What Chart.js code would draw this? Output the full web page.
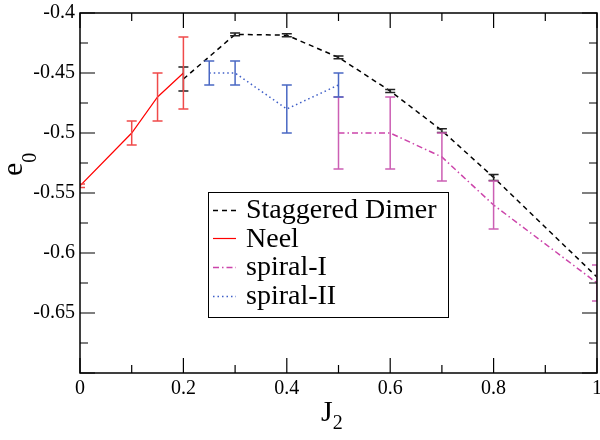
<!DOCTYPE html>
<html>
<head>
<meta charset="utf-8">
<script src="https://cdn.jsdelivr.net/npm/chart.js@4.4.0/dist/chart.umd.min.js"></script>
<style>
    html, body { margin: 0; padding: 0; background: #ffffff; }
    #wrap { width: 600px; height: 440px; position: relative; }
    #fontWarm { position: absolute; left: 0; top: 0; font-family: "Liberation Serif"; font-size: 20px; color: transparent; z-index: -1; white-space: nowrap; }
</style>
</head>
<body>
<div id="wrap">
    <div id="fontWarm">Staggered Dimer Neel spiral-I spiral-II J2 e0 -0.45 0.2 1</div>
    <canvas id="energyChart" width="600" height="440" style="position: relative; background: #fff;"></canvas>
</div>
<script>
// values
const dimerJ = [0.2, 0.3, 0.4, 0.5, 0.6, 0.7, 0.8, 1.0];
const dimerE = [-0.455, -0.4178, -0.4185, -0.437, -0.465, -0.498, -0.537, -0.62];
const dimerErr = [0.01, 0.0012, 0.0012, 0.0012, 0.0012, 0.0015, 0.0025, 0];

const neelJ = [0, 0.1, 0.15, 0.2];
const neelE = [-0.544, -0.5, -0.47, -0.45];
const neelErr = [0.0015, 0.01, 0.02, 0.03];

const spiral1J = [0.5, 0.6, 0.7, 0.8, 1.0];
const spiral1E = [-0.5, -0.5, -0.52, -0.56, -0.625];
const spiral1Err = [0.03, 0.03, 0.02, 0.02, 0.015];

const spiral2J = [0.25, 0.3, 0.4, 0.5];
const spiral2E = [-0.45, -0.45, -0.48, -0.46];
const spiral2Err = [0.01, 0.01, 0.02, 0.01];

const xTicks = [0, 0.2, 0.4, 0.6, 0.8, 1];
const yTicks = [-0.7, -0.65, -0.6, -0.55, -0.5, -0.45, -0.4];
const seriesNames = ['Staggered Dimer', 'Neel', 'spiral-I', 'spiral-II'];

const SERIF = '"Liberation Serif"';
Chart.defaults.font.family = SERIF;

let energyChart = null;

function toPoints(xs, ys) {
    return xs.map((x, i) => ({ x: x, y: ys[i] }));
}

// error bars, drawn through the scales
const errorBarPlugin = {
    id: 'errorBars',
    afterDatasetsDraw(chart) {
        const { ctx, chartArea, scales: { x, y } } = chart;
        ctx.save();
        ctx.beginPath();
        ctx.rect(chartArea.left, chartArea.top, chartArea.right - chartArea.left, chartArea.bottom - chartArea.top);
        ctx.clip();
        chart.data.datasets.forEach(ds => {
            if (!ds.errors) return;
            ctx.strokeStyle = ds.errorColor;
            ctx.lineWidth = 1.5;
            ds.data.forEach((p, i) => {
                const err = ds.errors[i];
                if (!err) return;
                const px = x.getPixelForValue(p.x);
                const top = y.getPixelForValue(p.y + err);
                const bot = y.getPixelForValue(p.y - err);
                ctx.beginPath();
                ctx.moveTo(px, top);
                ctx.lineTo(px, bot);
                ctx.moveTo(px - 5, top);
                ctx.lineTo(px + 5, top);
                ctx.moveTo(px - 5, bot);
                ctx.lineTo(px + 5, bot);
                ctx.stroke();
            });
        });
        ctx.restore();
    }
};

// frame and inward ticks on all four sides
const framePlugin = {
    id: 'frame',
    afterDraw(chart) {
        const { ctx, chartArea: { left, right, top, bottom }, scales: { x, y } } = chart;
        ctx.save();
        ctx.strokeStyle = '#000';
        ctx.lineWidth = 1.5;
        ctx.strokeRect(left, top, right - left, bottom - top);

        ctx.lineWidth = 1.2;
        ctx.beginPath();
        for (let i = 0; i <= 10; i++) {
            const len = i % 2 === 0 ? 15 : 8;
            const px = x.getPixelForValue(i / 10);
            ctx.moveTo(px, bottom);
            ctx.lineTo(px, bottom - len);
            ctx.moveTo(px, top);
            ctx.lineTo(px, top + len);
        }
        for (let i = 0; i <= 12; i++) {
            const len = i % 2 === 0 ? 15 : 8;
            const py = y.getPixelForValue(-0.7 + i * 0.025);
            ctx.moveTo(left, py);
            ctx.lineTo(left + len, py);
            ctx.moveTo(right, py);
            ctx.lineTo(right - len, py);
        }
        ctx.stroke();
        ctx.restore();
    }
};

// axis titles with subscripts
const titlePlugin = {
    id: 'axisTitles',
    afterDraw(chart) {
        const { ctx } = chart;
        ctx.save();
        ctx.fillStyle = '#000';
        ctx.textAlign = 'left';
        ctx.textBaseline = 'alphabetic';

        ctx.font = '30px ' + SERIF;
        const jw = ctx.measureText('J').width;
        ctx.fillText('J', 321, 421);
        ctx.font = '20px ' + SERIF;
        ctx.fillText('2', 321 + jw, 429);

        ctx.translate(22, 176);
        ctx.rotate(-Math.PI / 2);
        ctx.font = '30px ' + SERIF;
        const ew = ctx.measureText('e').width;
        ctx.fillText('e', 0, 0);
        ctx.font = '20px ' + SERIF;
        ctx.fillText('0', ew, 14);
        ctx.restore();
    }
};

// boxed legend inside the plot
const legendPlugin = {
    id: 'boxLegend',
    afterDraw(chart) {
        const { ctx } = chart;
        const datasets = chart.data.datasets;
        ctx.save();
        ctx.fillStyle = '#fff';
        ctx.fillRect(208, 192, 240, 125);
        ctx.strokeStyle = '#000';
        ctx.lineWidth = 1;
        ctx.strokeRect(208.5, 192.5, 240, 125);

        ctx.font = '28px ' + SERIF;
        ctx.textAlign = 'left';
        ctx.textBaseline = 'alphabetic';
        datasets.forEach((ds, i) => {
            const base = 218 + i * 28.7;
            const ly = Math.round(base - 8.5) + 0.5;
            ctx.strokeStyle = ds.borderColor;
            ctx.lineWidth = ds.borderWidth;
            ctx.setLineDash(ds.borderDash || []);
            ctx.beginPath();
            ctx.moveTo(213, ly);
            ctx.lineTo(236, ly);
            ctx.stroke();
            ctx.setLineDash([]);
            ctx.fillStyle = '#000';
            ctx.fillText(seriesNames[i], 246, base);
        });
        ctx.restore();
    }
};

function drawEnergyChart() {
    if (energyChart) {
        energyChart.update('none');
        return;
    }
    const ctx = document.getElementById('energyChart').getContext('2d');
    energyChart = new Chart(ctx, {
        type: 'scatter',
        data: {
            datasets: [{
                label: seriesNames[0],
                data: toPoints(dimerJ, dimerE),
                errors: dimerErr,
                errorColor: '#222222',
                borderColor: '#000000',
                borderWidth: 1.5,
                borderDash: [5, 4]
            }, {
                label: seriesNames[1],
                data: toPoints(neelJ, neelE),
                errors: neelErr,
                errorColor: '#f04a4a',
                borderColor: '#ff0000',
                borderWidth: 1.2
            }, {
                label: seriesNames[2],
                data: toPoints(spiral1J, spiral1E),
                errors: spiral1Err,
                errorColor: '#cc5fb4',
                borderColor: '#cc44aa',
                borderWidth: 1.5,
                borderDash: [6, 3, 1.5, 3]
            }, {
                label: seriesNames[3],
                data: toPoints(spiral2J, spiral2E),
                errors: spiral2Err,
                errorColor: '#4a68c4',
                borderColor: '#3f5fc8',
                borderWidth: 1.5,
                borderDash: [1.5, 3]
            }]
        },
        options: {
            responsive: false,
            animation: false,
            showLine: true,
            elements: {
                point: { radius: 0, hoverRadius: 0 },
                line: { tension: 0 }
            },
            layout: { padding: { top: 13, right: 3, left: 0, bottom: 0 } },
            plugins: {
                legend: { display: false },
                tooltip: { enabled: false }
            },
            scales: {
                x: {
                    type: 'linear',
                    min: 0,
                    max: 1,
                    grid: { display: false, drawTicks: false },
                    border: { display: false },
                    afterBuildTicks: scale => { scale.ticks = xTicks.map(v => ({ value: v })); },
                    afterFit: scale => {
                        scale.height = 67;
                        scale.paddingLeft = 0;
                        scale.paddingRight = 0;
                    },
                    ticks: {
                        autoSkip: false,
                        maxRotation: 0,
                        padding: 4,
                        color: '#000',
                        font: { family: SERIF, size: 20 },
                        callback: v => String(v)
                    }
                },
                y: {
                    type: 'linear',
                    min: -0.7,
                    max: -0.4,
                    grid: { display: false, drawTicks: false },
                    border: { display: false },
                    afterBuildTicks: scale => { scale.ticks = yTicks.map(v => ({ value: v })); },
                    afterFit: scale => {
                        scale.width = 80;
                        scale.paddingTop = 0;
                        scale.paddingBottom = 0;
                    },
                    ticks: {
                        autoSkip: false,
                        padding: 5,
                        color: '#000',
                        font: { family: SERIF, size: 20 },
                        callback: v => (v === -0.7 ? '' : String(v))
                    }
                }
            }
        },
        plugins: [errorBarPlugin, framePlugin, titlePlugin, legendPlugin]
    });
}

// warm the font up, draw, then redraw once the font is surely there
const warmCtx = document.createElement('canvas').getContext('2d');
warmCtx.font = '20px ' + SERIF;
warmCtx.measureText('Staggered Dimer -0.45');
drawEnergyChart();
document.fonts.ready.then(drawEnergyChart);
window.addEventListener('load', drawEnergyChart);
requestAnimationFrame(drawEnergyChart);
setTimeout(drawEnergyChart, 60);
setTimeout(drawEnergyChart, 250);
</script>
</body>
</html>
